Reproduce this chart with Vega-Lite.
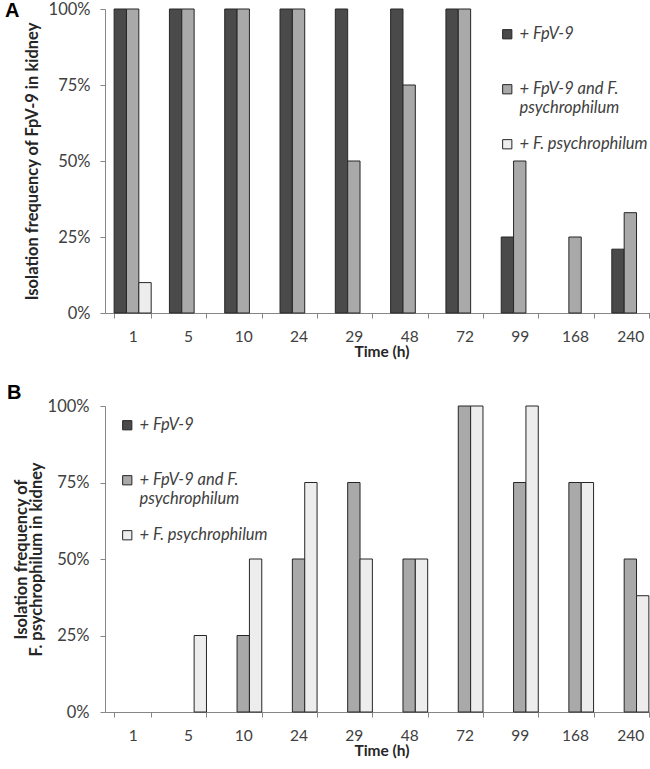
{
  "$schema": "https://vega.github.io/schema/vega-lite/v6.json",
  "padding": {"left": 5, "top": 1, "right": 0, "bottom": 0},
  "background": "white",
  "config": {
    "view": {"stroke": null},
    "font": "Lato",
    "axis": {
      "domainColor": "#868686", "tickColor": "#868686", "labelColor": "#404040",
      "labelFont": "Lato", "labelFontSize": 16.5, "titleFont": "Lato", "titleFontSize": 16.5,
      "titleFontWeight": "bold", "titleColor": "#262626", "grid": false, "tickSize": 5
    },
    "axisX": {"labelFontSize": 15.5, "titleFontSize": 15.5},
    "legend": {
      "labelFont": "Lato", "labelFontSize": 16.5, "labelFontStyle": "italic", "labelColor": "#404040",
      "symbolType": "square", "symbolSize": 85, "symbolStrokeColor": "#262626", "symbolStrokeWidth": 1,
      "rowPadding": 19, "labelOffset": 4, "labelLimit": 300
    }
  },
  "datasets": {
    "a": [
      {"time": 1, "group": "+ FpV-9", "value": 100},
      {"time": 5, "group": "+ FpV-9", "value": 100},
      {"time": 10, "group": "+ FpV-9", "value": 100},
      {"time": 24, "group": "+ FpV-9", "value": 100},
      {"time": 29, "group": "+ FpV-9", "value": 100},
      {"time": 48, "group": "+ FpV-9", "value": 100},
      {"time": 72, "group": "+ FpV-9", "value": 100},
      {"time": 99, "group": "+ FpV-9", "value": 25},
      {"time": 168, "group": "+ FpV-9", "value": 0},
      {"time": 240, "group": "+ FpV-9", "value": 21},
      {"time": 1, "group": "+ FpV-9 and F. psychrophilum", "value": 100},
      {"time": 5, "group": "+ FpV-9 and F. psychrophilum", "value": 100},
      {"time": 10, "group": "+ FpV-9 and F. psychrophilum", "value": 100},
      {"time": 24, "group": "+ FpV-9 and F. psychrophilum", "value": 100},
      {"time": 29, "group": "+ FpV-9 and F. psychrophilum", "value": 50},
      {"time": 48, "group": "+ FpV-9 and F. psychrophilum", "value": 75},
      {"time": 72, "group": "+ FpV-9 and F. psychrophilum", "value": 100},
      {"time": 99, "group": "+ FpV-9 and F. psychrophilum", "value": 50},
      {"time": 168, "group": "+ FpV-9 and F. psychrophilum", "value": 25},
      {"time": 240, "group": "+ FpV-9 and F. psychrophilum", "value": 33},
      {"time": 1, "group": "+ F. psychrophilum", "value": 10},
      {"time": 5, "group": "+ F. psychrophilum", "value": 0},
      {"time": 10, "group": "+ F. psychrophilum", "value": 0},
      {"time": 24, "group": "+ F. psychrophilum", "value": 0},
      {"time": 29, "group": "+ F. psychrophilum", "value": 0},
      {"time": 48, "group": "+ F. psychrophilum", "value": 0},
      {"time": 72, "group": "+ F. psychrophilum", "value": 0},
      {"time": 99, "group": "+ F. psychrophilum", "value": 0},
      {"time": 168, "group": "+ F. psychrophilum", "value": 0},
      {"time": 240, "group": "+ F. psychrophilum", "value": 0}
    ],
    "b": [
      {"time": 1, "group": "+ FpV-9", "value": 0},
      {"time": 5, "group": "+ FpV-9", "value": 0},
      {"time": 10, "group": "+ FpV-9", "value": 0},
      {"time": 24, "group": "+ FpV-9", "value": 0},
      {"time": 29, "group": "+ FpV-9", "value": 0},
      {"time": 48, "group": "+ FpV-9", "value": 0},
      {"time": 72, "group": "+ FpV-9", "value": 0},
      {"time": 99, "group": "+ FpV-9", "value": 0},
      {"time": 168, "group": "+ FpV-9", "value": 0},
      {"time": 240, "group": "+ FpV-9", "value": 0},
      {"time": 1, "group": "+ FpV-9 and F. psychrophilum", "value": 0},
      {"time": 5, "group": "+ FpV-9 and F. psychrophilum", "value": 0},
      {"time": 10, "group": "+ FpV-9 and F. psychrophilum", "value": 25},
      {"time": 24, "group": "+ FpV-9 and F. psychrophilum", "value": 50},
      {"time": 29, "group": "+ FpV-9 and F. psychrophilum", "value": 75},
      {"time": 48, "group": "+ FpV-9 and F. psychrophilum", "value": 50},
      {"time": 72, "group": "+ FpV-9 and F. psychrophilum", "value": 100},
      {"time": 99, "group": "+ FpV-9 and F. psychrophilum", "value": 75},
      {"time": 168, "group": "+ FpV-9 and F. psychrophilum", "value": 75},
      {"time": 240, "group": "+ FpV-9 and F. psychrophilum", "value": 50},
      {"time": 1, "group": "+ F. psychrophilum", "value": 0},
      {"time": 5, "group": "+ F. psychrophilum", "value": 25},
      {"time": 10, "group": "+ F. psychrophilum", "value": 50},
      {"time": 24, "group": "+ F. psychrophilum", "value": 75},
      {"time": 29, "group": "+ F. psychrophilum", "value": 50},
      {"time": 48, "group": "+ F. psychrophilum", "value": 50},
      {"time": 72, "group": "+ F. psychrophilum", "value": 100},
      {"time": 99, "group": "+ F. psychrophilum", "value": 100},
      {"time": 168, "group": "+ F. psychrophilum", "value": 75},
      {"time": 240, "group": "+ F. psychrophilum", "value": 38}
    ]
  },
  "spacing": 23,
  "resolve": {"scale": {"fill": "independent", "x": "independent", "y": "independent"}},
  "vconcat": [
    {
      "title": {"text": "A", "anchor": "start", "frame": "group", "baseline": "top", "offset": 0, "dx": -100, "dy": 20, "fontSize": 20, "font": "Liberation Sans", "fontWeight": "bold", "color": "#000000"},
      "width": 553,
      "height": 304,
      "data": {"name": "a"},
      "transform": [{"filter": "datum.value > 0"}],
      "mark": {"type": "bar", "stroke": "#262626", "strokeWidth": 1},
      "encoding": {
        "x": {"field": "time", "type": "ordinal", "sort": [1, 5, 10, 24, 29, 48, 72, 99, 168, 240],
          "scale": {"domain": [1, 5, 10, 24, 29, 48, 72, 99, 168, 240], "paddingInner": 0.33, "paddingOuter": 0.165},
          "axis": {"title": "Time (h)", "labelAngle": 0, "tickBand": "extent", "labelPadding": 11, "titlePadding": 0}},
        "xOffset": {"field": "group", "type": "nominal",
          "scale": {"domain": ["+ FpV-9", "+ FpV-9 and F. psychrophilum", "+ F. psychrophilum"], "paddingInner": 0, "paddingOuter": 0}},
        "y": {"field": "value", "type": "quantitative", "scale": {"domain": [0, 100]},
          "axis": {"values": [0, 25, 50, 75, 100], "labelExpr": "datum.value + '%'", "title": "Isolation frequency of FpV-9 in kidney", "labelPadding": 10, "titlePadding": 8}},
        "fill": {"field": "group", "type": "nominal",
          "scale": {"domain": ["+ FpV-9", "+ FpV-9 and F. psychrophilum", "+ F. psychrophilum"], "range": ["#4a4a4a", "#a9a9a9", "#ededed"]},
          "legend": {"title": null, "orient": "none", "legendX": 394, "legendY": 17,
            "labelExpr": "datum.label == '+ FpV-9 and F. psychrophilum' ? ['+ FpV-9 and F.', 'psychrophilum'] : [datum.label, ' ']"}}
      }
    },
    {
      "title": {"text": "B", "anchor": "start", "frame": "group", "baseline": "top", "offset": 0, "dx": -98, "dy": 5, "fontSize": 20, "font": "Liberation Sans", "fontWeight": "bold", "color": "#000000"},
      "width": 553,
      "height": 306,
      "data": {"name": "b"},
      "transform": [{"filter": "datum.value > 0"}],
      "mark": {"type": "bar", "stroke": "#262626", "strokeWidth": 1},
      "encoding": {
        "x": {"field": "time", "type": "ordinal", "sort": [1, 5, 10, 24, 29, 48, 72, 99, 168, 240],
          "scale": {"domain": [1, 5, 10, 24, 29, 48, 72, 99, 168, 240], "paddingInner": 0.33, "paddingOuter": 0.165},
          "axis": {"title": "Time (h)", "labelAngle": 0, "tickBand": "extent", "labelPadding": 11, "titlePadding": 0}},
        "xOffset": {"field": "group", "type": "nominal",
          "scale": {"domain": ["+ FpV-9", "+ FpV-9 and F. psychrophilum", "+ F. psychrophilum"], "paddingInner": 0, "paddingOuter": 0}},
        "y": {"field": "value", "type": "quantitative", "scale": {"domain": [0, 100]},
          "axis": {"values": [0, 25, 50, 75, 100], "labelExpr": "datum.value + '%'", "title": ["Isolation frequency of", "F. psychrophilum in kidney"], "titleLineHeight": 15, "labelPadding": 11, "titlePadding": 3}},
        "fill": {"field": "group", "type": "nominal",
          "scale": {"domain": ["+ FpV-9", "+ FpV-9 and F. psychrophilum", "+ F. psychrophilum"], "range": ["#4a4a4a", "#a9a9a9", "#ededed"]},
          "legend": {"title": null, "orient": "none", "legendX": 14, "legendY": 11,
            "labelExpr": "datum.label == '+ FpV-9 and F. psychrophilum' ? ['+ FpV-9 and F.', 'psychrophilum'] : [datum.label, ' ']"}}
      }
    }
  ]
}
